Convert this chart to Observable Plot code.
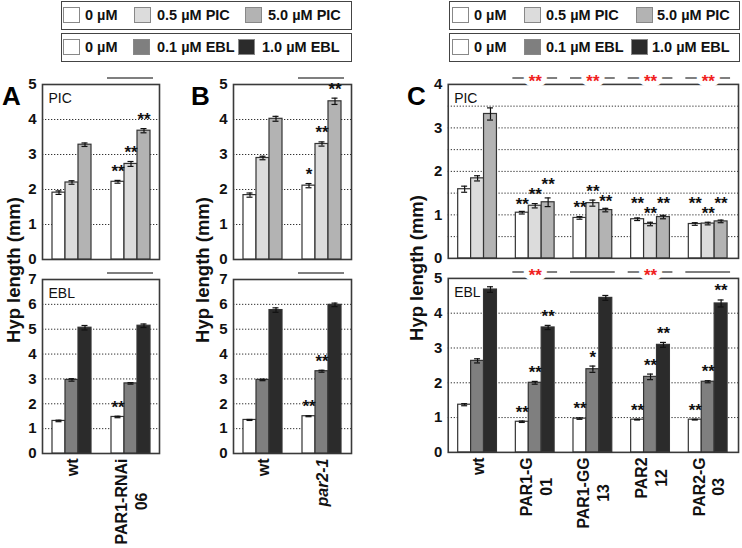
<!DOCTYPE html>
<html><head><meta charset="utf-8">
<script src="https://cdn.jsdelivr.net/npm/d3@7"></script>
<script src="https://cdn.jsdelivr.net/npm/@observablehq/plot@0.6"></script>
<style>
body{margin:0;background:#fff;}
#fig{position:relative;width:742px;height:548px;font-family:"Liberation Sans",Arial,sans-serif;overflow:hidden;background:#fff}
.lg{position:absolute;border:1.5px solid #444;box-sizing:border-box;height:29px;}
.sw{position:absolute;top:5px;width:17px;height:16px;border:1px solid #888;box-sizing:border-box}
.tx{position:absolute;top:4px;font-weight:bold;font-size:14.5px;line-height:18px;white-space:nowrap;color:#111}
.letter{position:absolute;font-weight:bold;font-size:26px;line-height:1;color:#000}
.ylab{position:absolute;font-weight:bold;font-size:18.5px;white-space:nowrap;transform:translate(-50%,-50%) rotate(-90deg);color:#111}
.layer{position:absolute}
</style>
</head><body>
<div id="fig"></div>
<script>
// ---------- data ----------
const treatPIC = ["0 µM", "0.5 µM PIC", "5.0 µM PIC"];
const treatEBL = ["0 µM", "0.1 µM EBL", "1.0 µM EBL"];
const colorsPIC = ["#ffffff", "#dcdcdc", "#b3b3b3"];
const colorsEBL = ["#ffffff", "#7f7f7f", "#2b2b2b"];

const ticksAB_PIC = [0, 1, 2, 3, 4, 5];
const gridAB_PIC = [1, 2, 3, 4];
const ticksAB_EBL = [0, 1, 2, 3, 4, 5, 6, 7];
const gridAB_EBL = [1, 2, 3, 4, 5, 6];
const ticksC_PIC = [0, 1, 2, 3, 4];
const gridC_PIC = [0.5, 1, 1.5, 2, 2.5, 3, 3.5];
const ticksC_EBL = [0, 1, 2, 3, 4, 5];
const gridC_EBL = [1, 2, 3, 4];

const groupsA = ["wt", "PAR1-RNAi\n06"];
const A_picMean = [[1.91, 2.20, 3.28], [2.22, 2.73, 3.68]];
const A_picErr  = [[0.05, 0.05, 0.05], [0.04, 0.07, 0.06]];
const A_picSig  = [["", "", ""], ["**", "**", "**"]];
const A_picBar  = ["", "-"];
const A_eblMean = [[1.31, 2.96, 5.06], [1.47, 2.82, 5.14]];
const A_eblErr  = [[0.03, 0.05, 0.09], [0.03, 0.03, 0.07]];
const A_eblSig  = [["", "", ""], ["**", "", ""]];
const A_eblBar  = ["", "-"];

const groupsB = ["wt", "par2-1"];
const B_picMean = [[1.84, 2.90, 4.02], [2.11, 3.30, 4.52]];
const B_picErr  = [[0.06, 0.05, 0.07], [0.06, 0.06, 0.09]];
const B_picSig  = [["", "", ""], ["*", "**", "**"]];
const B_picBar  = ["", "-"];
const B_eblMean = [[1.35, 2.96, 5.77], [1.50, 3.31, 5.98]];
const B_eblErr  = [[0.02, 0.03, 0.09], [0.02, 0.04, 0.07]];
const B_eblSig  = [["", "", ""], ["**", "**", ""]];
const B_eblBar  = ["", "-"];

const groupsC = ["wt", "PAR1-G\n01", "PAR1-GG\n13", "PAR2\n12", "PAR2-G\n03"];
const C_picMean = [[1.59, 1.84, 3.32], [1.05, 1.21, 1.29], [0.93, 1.27, 1.11], [0.90, 0.79, 0.95], [0.79, 0.80, 0.85]];
const C_picErr  = [[0.07, 0.06, 0.14], [0.03, 0.05, 0.10], [0.03, 0.07, 0.04], [0.03, 0.04, 0.04], [0.03, 0.03, 0.03]];
const C_picSig  = [["", "", ""], ["**", "**", "**"], ["**", "**", "**"], ["**", "**", "**"], ["**", "**", "**"]];
const C_picBar  = ["", "**", "**", "**", "**"];
const C_eblMean = [[1.37, 2.63, 4.68], [0.88, 2.00, 3.59], [0.97, 2.39, 4.44], [0.94, 2.17, 3.09], [0.94, 2.03, 4.28]];
const C_eblErr  = [[0.03, 0.06, 0.08], [0.02, 0.04, 0.06], [0.02, 0.09, 0.07], [0.01, 0.08, 0.07], [0.01, 0.03, 0.10]];
const C_eblSig  = [["", "", ""], ["**", "**", "**"], ["**", "*", ""], ["**", "**", "**"], ["**", "**", "**"]];
const C_eblBar  = ["", "**", "-", "**", "-"];

const italicGroups = ["par2-1"];

// ---------- helpers ----------
const FONT = '"Liberation Sans", Arial, sans-serif';
const fig = document.getElementById("fig");
const ctx = document.createElement("canvas").getContext("2d");
function maxLineWidth(s, italic) {
  ctx.font = `${italic ? "italic " : ""}bold 16px "Liberation Sans"`;
  return Math.max(...s.split("\n").map(l => ctx.measureText(l).width));
}
const ML = 45, MR = 4, MT = 16;
const STAR_GAP = 10; // px, minimum vertical separation of neighbouring star labels

function panel(o) {
  const {groups, treats, colors, means, errs, sigs, bars, domain, ticks, grid, label, L, T, W, H, xlabels} = o;
  const MB = xlabels ? 95 : 4;
  const top = domain[1];
  const k = H / (top - domain[0]); // px per unit (layout only)
  const rows = [];
  groups.forEach((g, i) => {
    const h = errs[i].map((e, j) => (means[i][j] + e) * k);
    const s = sigs[i];
    if (s[1]) for (const j of [0, 2]) {
      if (s[j] && Math.abs(h[j] - h[1]) < STAR_GAP) {
        h[j] = (h[1] - h[j] > 3) ? h[1] - STAR_GAP : h[1] + STAR_GAP;
      }
    }
    treats.forEach((t, j) => rows.push({g, t, v: means[i][j], e: errs[i][j], s: s[j], ys: h[j] / k}));
  });
  const brk = groups.map((g, i) => ({g, m: bars[i]})).filter(d => d.m);
  const common = {
    width: W + ML + MR, height: H + MT + MB,
    marginLeft: ML, marginRight: MR, marginTop: MT, marginBottom: MB,
    style: {background: "transparent", fontFamily: FONT, fontSize: "15px", fontWeight: "bold", overflow: "visible", color: "#111"}
  };
  const base = Plot.plot({
    ...common,
    y: {domain},
    marks: [
      Plot.ruleY(grid, {stroke: "#333", strokeDasharray: "1.3,1.7", strokeWidth: 1}),
      Plot.frame({stroke: "#3a3a3a", strokeWidth: 1.6}),
      Plot.axisY({ticks, tickSize: 0, tickPadding: 6, label: null, tickFormat: d => String(d),
        fontSize: 15, fontWeight: "bold", fontFamily: FONT, fill: "#111"}),
      Plot.text([label], {frameAnchor: "top-left", dx: 6, dy: 9, lineAnchor: "top", textAnchor: "start", fontWeight: "normal", fontSize: 14, fill: "#111"})
    ]
  });
  const labelMarks = xlabels ? groups.map(g => {
    const it = italicGroups.includes(g);
    return Plot.text([g], {fx: d => d, frameAnchor: "bottom", text: d => d, rotate: -90,
      textAnchor: "middle", lineAnchor: "middle", lineHeight: 1.25,
      dy: 5 + maxLineWidth(g, it) / 2, fontSize: 16, fontWeight: "bold",
      fontStyle: it ? "italic" : "normal", fill: "#111"});
  }) : [];
  const barsPlot = Plot.plot({
    ...common,
    fx: {domain: groups, paddingInner: 0.32, paddingOuter: 0.15, axis: null, label: null},
    x: {domain: treats, padding: 0, axis: null},
    y: {domain, axis: null},
    color: {domain: treats, range: colors},
    marks: [
      Plot.barY(rows, {fx: "g", x: "t", y: "v", fill: "t", stroke: "#333", strokeWidth: 1.2}),
      Plot.ruleX(rows, {fx: "g", x: "t", y1: d => d.v - d.e, y2: d => d.v + d.e, stroke: "#111", strokeWidth: 1.2}),
      Plot.tickY(rows, {fx: "g", x: "t", y: d => d.v + d.e, inset: 3.5, stroke: "#111", strokeWidth: 1.2}),
      Plot.tickY(rows, {fx: "g", x: "t", y: d => d.v - d.e, inset: 3.5, stroke: "#111", strokeWidth: 1.2}),
      Plot.text(rows.filter(d => d.s), {fx: "g", x: "t", y: "ys", text: "s", dy: -9, fontSize: 17, fontWeight: "bold", fill: "#111"}),
      Plot.ruleY(brk, {fx: "g", y: () => top, dy: -6.5, insetLeft: -3, insetRight: -3, stroke: "#555", strokeWidth: 1.5}),
      Plot.text(brk.filter(d => d.m !== "-"), {fx: "g", y: () => top, dy: -2.4, text: "m", fill: "#f02020", stroke: "white", strokeWidth: 10, fontSize: 17, fontWeight: "bold"}),
      ...labelMarks
    ]
  });
  for (const svg of [base, barsPlot]) {
    const d = document.createElement("div");
    d.className = "layer";
    d.style.left = (L - ML) + "px";
    d.style.top = (T - MT) + "px";
    d.appendChild(svg);
    fig.appendChild(d);
  }
}

// ---------- legends ----------
function legend(left, top, treats, colors, swX, txX) {
  const box = document.createElement("div");
  box.className = "lg";
  box.style.left = left + "px"; box.style.top = top + "px"; box.style.width = "291px";
  treats.forEach((t, i) => {
    const s = document.createElement("span"); s.className = "sw";
    s.style.left = swX[i] + "px"; s.style.background = colors[i]; box.appendChild(s);
    const x = document.createElement("span"); x.className = "tx";
    x.style.left = txX[i] + "px"; x.textContent = t; box.appendChild(x);
  });
  fig.appendChild(box);
}
legend(61, 1, treatPIC, colorsPIC, [1, 72, 183], [23, 95, 206]);
legend(61, 33, treatEBL, colorsEBL, [1, 71, 176], [23, 95, 200]);
legend(449, 1, treatPIC, colorsPIC, [2, 74, 186], [24, 96, 207]);
legend(449, 33, treatEBL, colorsEBL, [2, 74, 181], [24, 96, 202]);

// ---------- letters & axis titles ----------
[["A", 2, 83], ["B", 191, 83], ["C", 407, 83]].forEach(([t, x, y]) => {
  const d = document.createElement("div"); d.className = "letter";
  d.style.left = x + "px"; d.style.top = y + "px"; d.textContent = t; fig.appendChild(d);
});
[[14, 270], [203, 270], [417, 268]].forEach(([x, y]) => {
  const d = document.createElement("div"); d.className = "ylab";
  d.style.left = x + "px"; d.style.top = y + "px"; d.textContent = "Hyp length (mm)"; fig.appendChild(d);
});

// ---------- panels ----------
panel({groups: groupsA, treats: treatPIC, colors: colorsPIC, means: A_picMean, errs: A_picErr, sigs: A_picSig, bars: A_picBar,
  domain: [0, 5], ticks: ticksAB_PIC, grid: gridAB_PIC, label: "PIC", L: 42, T: 84, W: 117, H: 175, xlabels: false});
panel({groups: groupsA, treats: treatEBL, colors: colorsEBL, means: A_eblMean, errs: A_eblErr, sigs: A_eblSig, bars: A_eblBar,
  domain: [0, 7], ticks: ticksAB_EBL, grid: gridAB_EBL, label: "EBL", L: 42, T: 279, W: 117, H: 174, xlabels: true});
panel({groups: groupsB, treats: treatPIC, colors: colorsPIC, means: B_picMean, errs: B_picErr, sigs: B_picSig, bars: B_picBar,
  domain: [0, 5], ticks: ticksAB_PIC, grid: gridAB_PIC, label: "", L: 233, T: 84, W: 118, H: 175, xlabels: false});
panel({groups: groupsB, treats: treatEBL, colors: colorsEBL, means: B_eblMean, errs: B_eblErr, sigs: B_eblSig, bars: B_eblBar,
  domain: [0, 7], ticks: ticksAB_EBL, grid: gridAB_EBL, label: "", L: 233, T: 279, W: 118, H: 174, xlabels: true});
panel({groups: groupsC, treats: treatPIC, colors: colorsPIC, means: C_picMean, errs: C_picErr, sigs: C_picSig, bars: C_picBar,
  domain: [0, 4], ticks: ticksC_PIC, grid: gridC_PIC, label: "PIC", L: 448, T: 84, W: 292, H: 175, xlabels: false});
panel({groups: groupsC, treats: treatEBL, colors: colorsEBL, means: C_eblMean, errs: C_eblErr, sigs: C_eblSig, bars: C_eblBar,
  domain: [0, 5], ticks: ticksC_EBL, grid: gridC_EBL, label: "EBL", L: 448, T: 278, W: 292, H: 175, xlabels: true});
</script>
</body></html>
